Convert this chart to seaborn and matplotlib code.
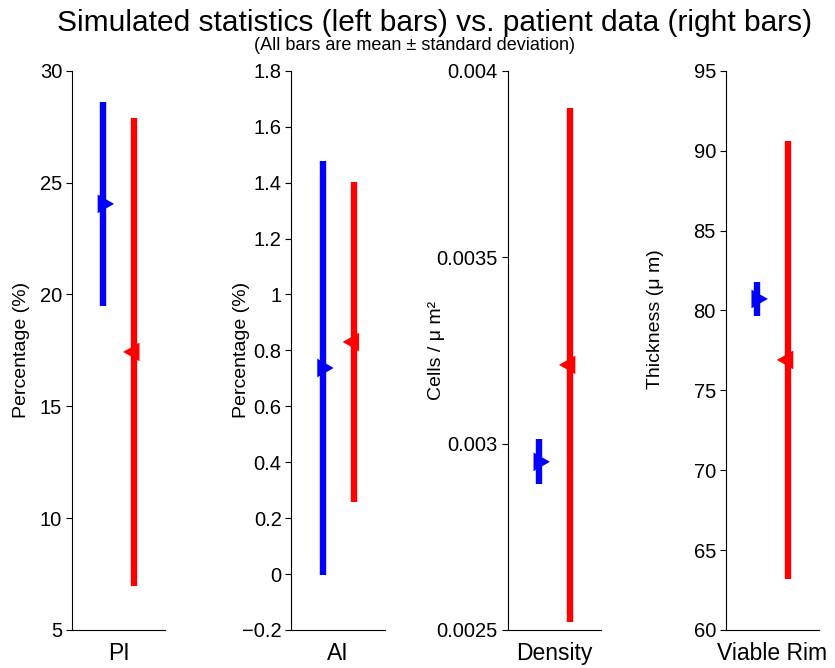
import pandas as pd
import seaborn as sns
import matplotlib.pyplot as plt
from matplotlib.ticker import FuncFormatter

panels = ["PI", "AI", "Density", "Viable Rim"]
ylabels = ["Percentage (%)", "Percentage (%)", "Cells / \u03bc m\u00b2", "Thickness (\u03bc m)"]
ylims = [(5, 30), (-0.2, 1.8), (0.0025, 0.004), (60, 95)]
yticks = [
    [5, 10, 15, 20, 25, 30],
    [-0.2, 0, 0.2, 0.4, 0.6, 0.8, 1, 1.2, 1.4, 1.6, 1.8],
    [0.0025, 0.003, 0.0035, 0.004],
    [60, 65, 70, 75, 80, 85, 90, 95],
]
sim_mean = [24.05, 0.737, 0.002951, 80.72]
sim_sd = [4.56, 0.742, 0.000060, 1.07]
pat_mean = [17.43, 0.830, 0.003211, 76.9]
pat_sd = [10.46, 0.572, 0.000690, 13.7]

sns.set_style("ticks")
plt.rcParams["font.family"] = ["Liberation Sans", "DejaVu Sans"]
for k in ["text.color", "axes.labelcolor", "xtick.color", "ytick.color"]:
    plt.rcParams[k] = "black"

# triangle markers, base sits a bit left of the point
right_tri = [(-0.57, -1), (1.19, 0), (-0.57, 1), (-0.57, -1)]
left_tri = [(0.57, -1), (-1.19, 0), (0.57, 1), (0.57, -1)]

fig = plt.figure(figsize=(8.35, 6.68), dpi=100)
lefts = [0.086, 0.349, 0.608, 0.869]
# where the y labels sit (axes coords)
label_xy = [(-0.449, 0.5), (-0.439, 0.5), (-0.674, 0.5), (-0.663, 0.556)]

fmt = FuncFormatter(lambda v, p: f"{v:g}".replace("-", "\u2212"))

for i, name in enumerate(panels):
    ax = fig.add_axes([lefts[i], 0.057, 0.112, 0.837])
    df = pd.DataFrame({
        "source": ["Simulated", "Patient"],
        "pos": [1, 2],
        "mean": [sim_mean[i], pat_mean[i]],
        "sd": [sim_sd[i], pat_sd[i]],
    })
    ax.vlines(df["pos"], df["mean"] - df["sd"], df["mean"] + df["sd"],
              colors=["#0000ff", "#ff0000"], linewidth=4.6, capstyle="butt")
    sns.scatterplot(data=df, x="pos", y="mean", hue="source", style="source",
                    palette={"Simulated": "#0000ff", "Patient": "#ff0000"},
                    markers={"Simulated": right_tri, "Patient": left_tri},
                    s=16 ** 2, linewidth=0, legend=False, ax=ax, zorder=3)
    ax.set_xlim(0, 3)
    ax.set_ylim(*ylims[i])
    ax.set_yticks(yticks[i])
    ax.yaxis.set_major_formatter(fmt)
    ax.set_xticks([1.5], [name])
    ax.tick_params(axis="x", length=0, pad=9, labelsize=16.5)
    ax.tick_params(axis="y", length=4, width=0.8, labelsize=14.5, pad=3)
    ax.set_xlabel("")
    ax.set_ylabel(ylabels[i], fontsize=14)
    ax.yaxis.set_label_coords(*label_xy[i])
    for s in ["left", "bottom"]:
        ax.spines[s].set_linewidth(0.8)
        ax.spines[s].set_color("black")
    sns.despine(ax=ax)

fig.text(0.521, 0.953, "Simulated statistics (left bars) vs. patient data (right bars)",
         ha="center", va="baseline", fontsize=21.5)
fig.text(0.496, 0.925, "(All bars are mean \u00b1 standard deviation)",
         ha="center", va="baseline", fontsize=13)

fig.savefig("out.png", dpi=100)
